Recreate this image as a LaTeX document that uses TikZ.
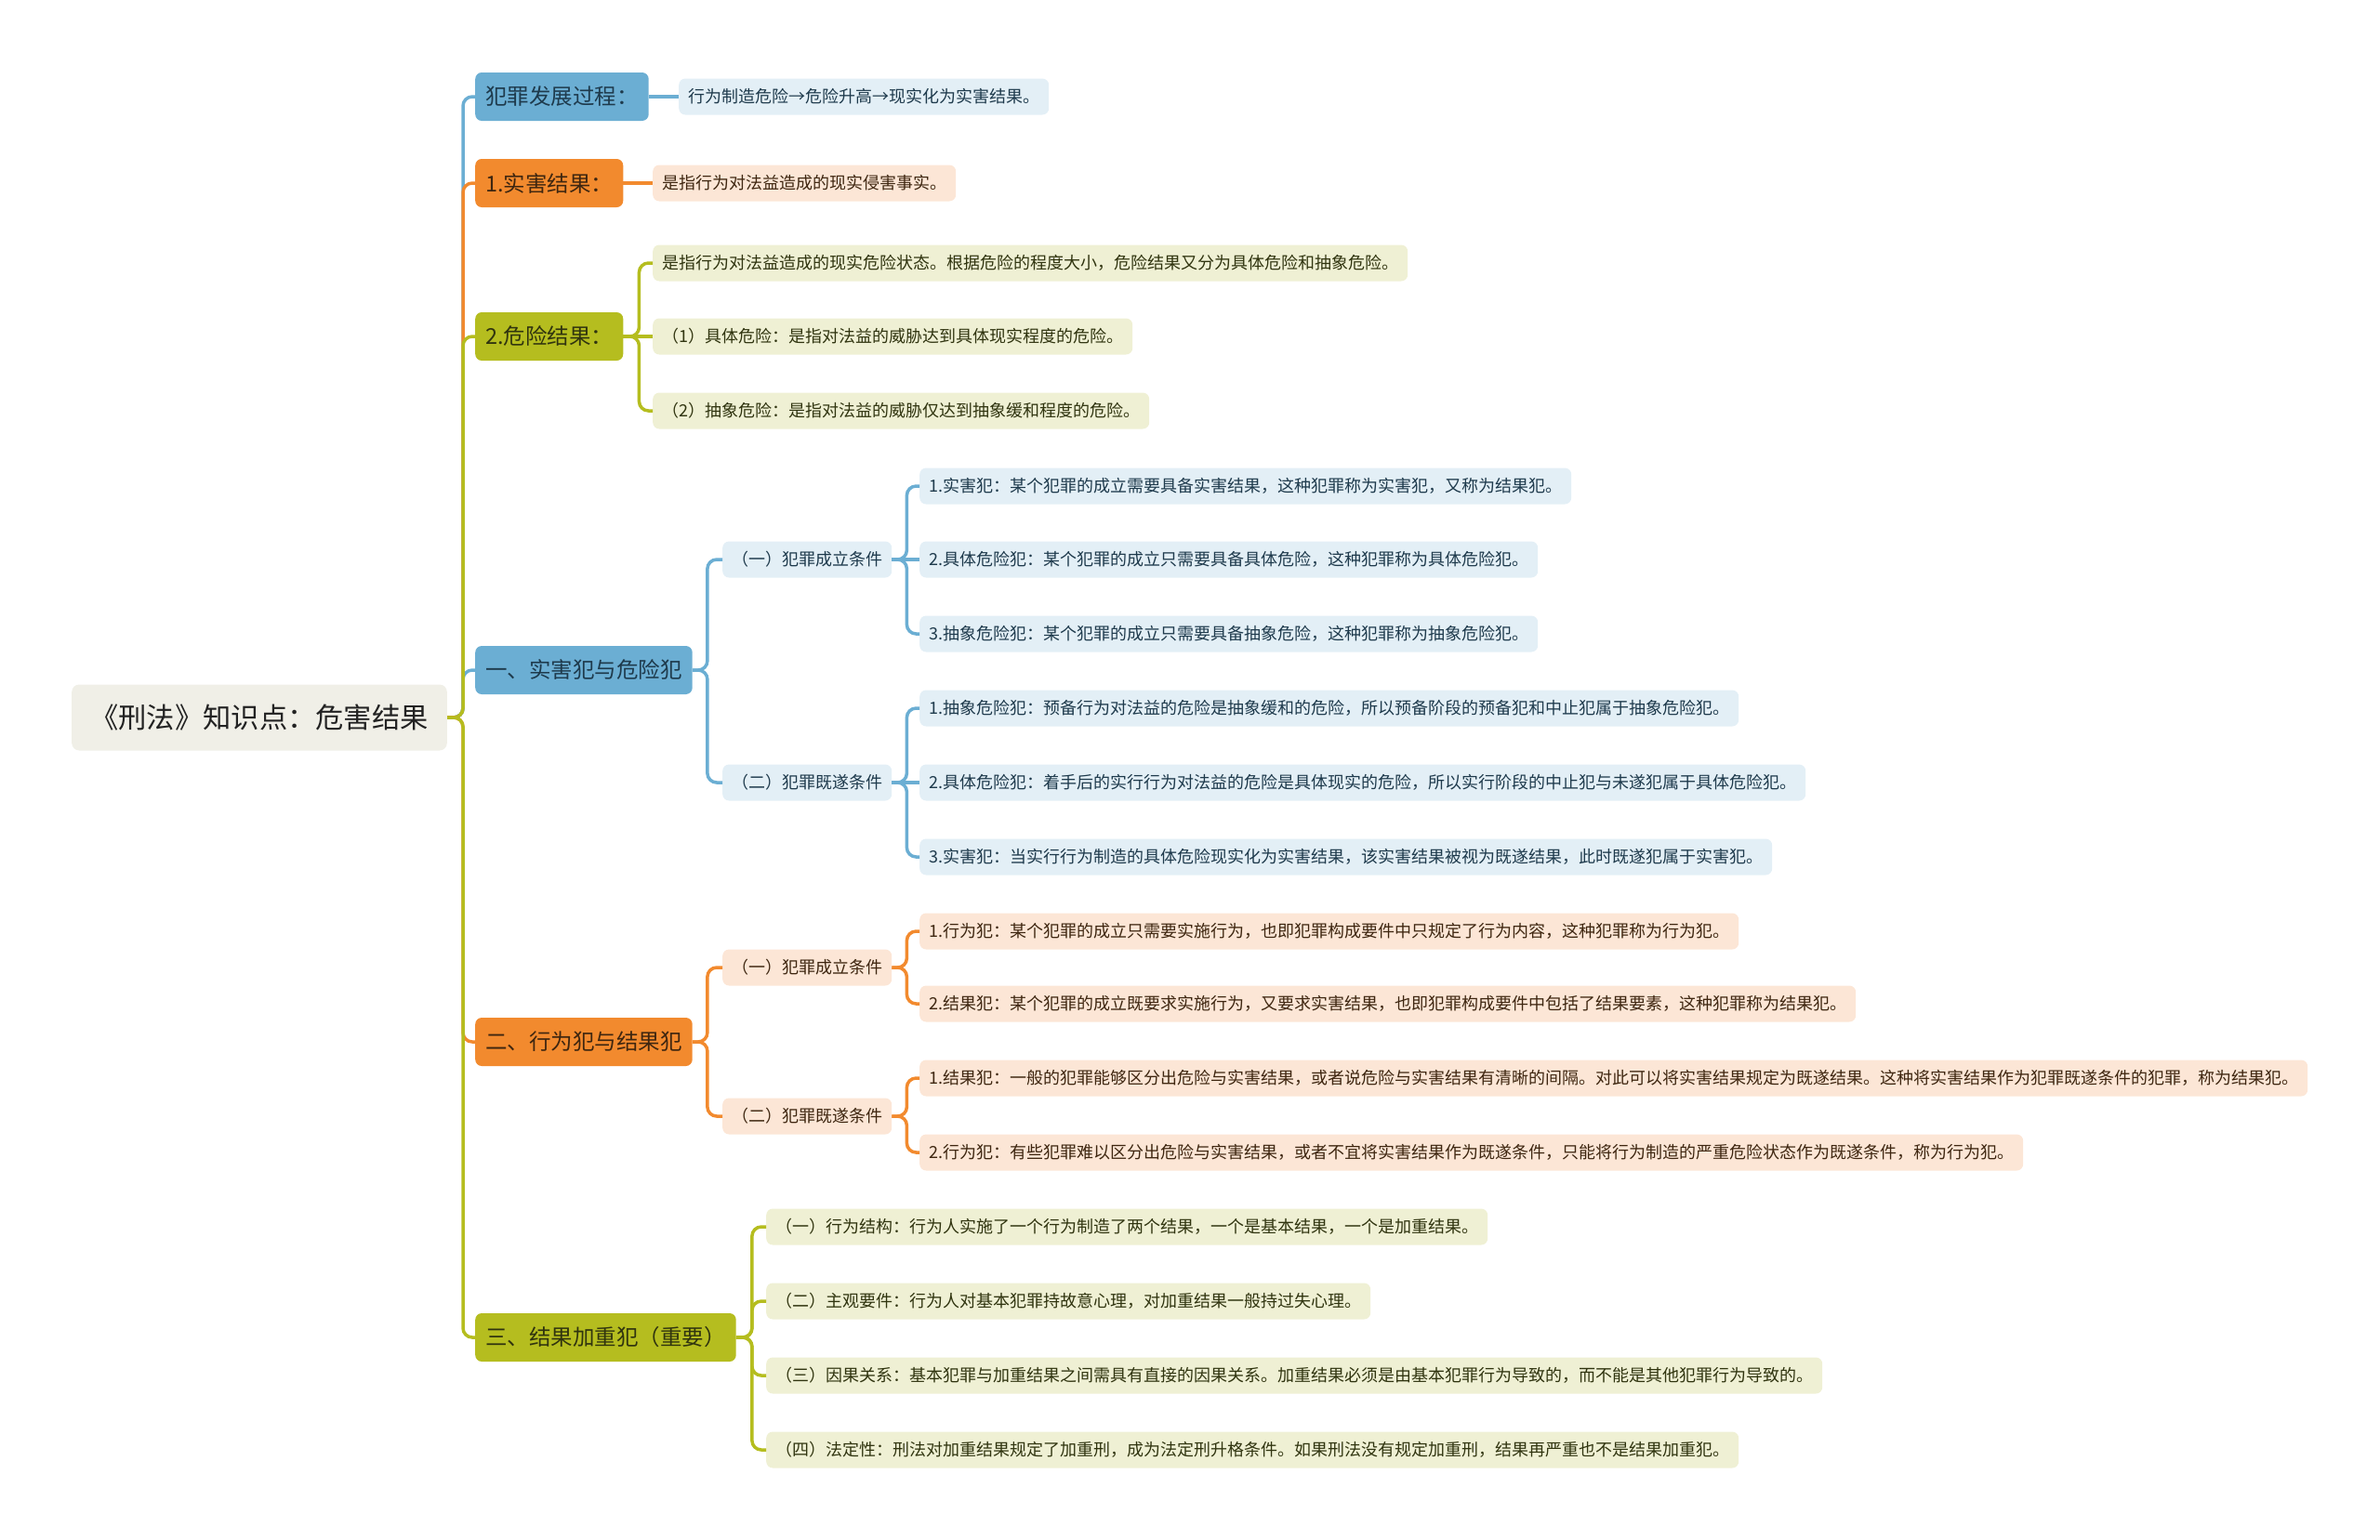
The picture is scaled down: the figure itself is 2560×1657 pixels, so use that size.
\documentclass[tikz,border=0pt]{standalone}
\usepackage{fontspec}
\newfontfamily\cjk{Noto Sans CJK SC}
\usepackage{tikz}
\usetikzlibrary{positioning, calc}

\definecolor{rootfill}{HTML}{F0EFE7}
\definecolor{roottext}{HTML}{222222}
\definecolor{blueM}{HTML}{6BAED3}
\definecolor{blueL}{HTML}{E3EFF6}
\definecolor{blueT}{HTML}{1E3A4C}
\definecolor{orangeM}{HTML}{F28A2E}
\definecolor{orangeL}{HTML}{FCE6D6}
\definecolor{orangeT}{HTML}{3E2610}
\definecolor{greenM}{HTML}{B5BD1F}
\definecolor{greenL}{HTML}{EFF0D4}
\definecolor{greenT}{HTML}{30340F}

\begin{document}
\begin{tikzpicture}[x=1pt, y=-1pt,
    root_node/.style={rectangle, rounded corners=8pt, fill=rootfill, text=roottext, anchor=west,
      font=\cjk\fontsize{30.3}{36}\selectfont, inner xsep=20pt, minimum height=71pt},
    main_node/.style={rectangle, rounded corners=7pt, anchor=west,
      font=\cjk\fontsize{23.5}{28}\selectfont, inner xsep=11pt, minimum height=52pt},
    leaf_node/.style={rectangle, rounded corners=7pt, anchor=west,
      font=\cjk\fontsize{18}{22}\selectfont, inner xsep=10pt, minimum height=39pt},
    blue_main/.style={main_node, fill=blueM, text=blueT},
    orange_main/.style={main_node, fill=orangeM, text=orangeT},
    green_main/.style={main_node, fill=greenM, text=greenT},
    blue_leaf/.style={leaf_node, fill=blueL, text=blueT},
    orange_leaf/.style={leaf_node, fill=orangeL, text=orangeT},
    green_leaf/.style={leaf_node, fill=greenL, text=greenT},
    link/.style={line width=3.5pt, rounded corners=10pt},
    ]
    \useasboundingbox (0,0) rectangle (2560,1657);

    % Nodes
    \node[root_node] (root) at (77,772) {《刑法》知识点：危害结果};

    \node[blue_main] (a) at (511,104) {犯罪发展过程：};
    \node[orange_main] (b) at (511,197) {1.实害结果：};
    \node[green_main] (c) at (511,362) {2.危险结果：};
    \node[blue_main] (d) at (511,721) {一、实害犯与危险犯};
    \node[orange_main] (e) at (511,1121) {二、行为犯与结果犯};
    \node[green_main] (f) at (511,1439) {三、结果加重犯（重要）};

    \node[blue_leaf] (a1) at (730,104) {行为制造危险→危险升高→现实化为实害结果。};
    \node[orange_leaf] (b1) at (702,197) {是指行为对法益造成的现实侵害事实。};

    \node[green_leaf] (c1) at (702,283) {是指行为对法益造成的现实危险状态。根据危险的程度大小，危险结果又分为具体危险和抽象危险。};
    \node[green_leaf] (c2) at (702,362) {（1）具体危险：是指对法益的威胁达到具体现实程度的危险。};
    \node[green_leaf] (c3) at (702,442) {（2）抽象危险：是指对法益的威胁仅达到抽象缓和程度的危险。};

    \node[blue_leaf] (d1) at (777,602) {（一）犯罪成立条件};
    \node[blue_leaf] (d2) at (777,842) {（二）犯罪既遂条件};
    \node[blue_leaf] (d1a) at (989,523) {1.实害犯：某个犯罪的成立需要具备实害结果，这种犯罪称为实害犯，又称为结果犯。};
    \node[blue_leaf] (d1b) at (989,602) {2.具体危险犯：某个犯罪的成立只需要具备具体危险，这种犯罪称为具体危险犯。};
    \node[blue_leaf] (d1c) at (989,682) {3.抽象危险犯：某个犯罪的成立只需要具备抽象危险，这种犯罪称为抽象危险犯。};
    \node[blue_leaf] (d2a) at (989,762) {1.抽象危险犯：预备行为对法益的危险是抽象缓和的危险，所以预备阶段的预备犯和中止犯属于抽象危险犯。};
    \node[blue_leaf] (d2b) at (989,842) {2.具体危险犯：着手后的实行行为对法益的危险是具体现实的危险，所以实行阶段的中止犯与未遂犯属于具体危险犯。};
    \node[blue_leaf] (d2c) at (989,922) {3.实害犯：当实行行为制造的具体危险现实化为实害结果，该实害结果被视为既遂结果，此时既遂犯属于实害犯。};

    \node[orange_leaf] (e1) at (777,1041) {（一）犯罪成立条件};
    \node[orange_leaf] (e2) at (777,1201) {（二）犯罪既遂条件};
    \node[orange_leaf] (e1a) at (989,1002) {1.行为犯：某个犯罪的成立只需要实施行为，也即犯罪构成要件中只规定了行为内容，这种犯罪称为行为犯。};
    \node[orange_leaf] (e1b) at (989,1080) {2.结果犯：某个犯罪的成立既要求实施行为，又要求实害结果，也即犯罪构成要件中包括了结果要素，这种犯罪称为结果犯。};
    \node[orange_leaf] (e2a) at (989,1160) {1.结果犯：一般的犯罪能够区分出危险与实害结果，或者说危险与实害结果有清晰的间隔。对此可以将实害结果规定为既遂结果。这种将实害结果作为犯罪既遂条件的犯罪，称为结果犯。};
    \node[orange_leaf] (e2b) at (989,1240) {2.行为犯：有些犯罪难以区分出危险与实害结果，或者不宜将实害结果作为既遂条件，只能将行为制造的严重危险状态作为既遂条件，称为行为犯。};

    \node[green_leaf] (f1) at (824,1320) {（一）行为结构：行为人实施了一个行为制造了两个结果，一个是基本结果，一个是加重结果。};
    \node[green_leaf] (f2) at (824,1400) {（二）主观要件：行为人对基本犯罪持故意心理，对加重结果一般持过失心理。};
    \node[green_leaf] (f3) at (824,1480) {（三）因果关系：基本犯罪与加重结果之间需具有直接的因果关系。加重结果必须是由基本犯罪行为导致的，而不能是其他犯罪行为导致的。};
    \node[green_leaf] (f4) at (824,1560) {（四）法定性：刑法对加重结果规定了加重刑，成为法定刑升格条件。如果刑法没有规定加重刑，结果再严重也不是结果加重犯。};

    % Links
    \draw[link, blueM] (root.east) -- ++(17,0) |- (a.west);
    \draw[link, orangeM] (root.east) -- ++(17,0) |- (b.west);
    \draw[link, blueM] (root.east) -- ++(17,0) |- (d.west);
    \draw[link, greenM] (root.east) -- ++(17,0) |- (c.west);
    \draw[link, orangeM] (root.east) -- ++(17,0) |- (e.west);
    \draw[link, greenM] (root.east) -- ++(17,0) |- (f.west);

    \draw[link, blueM] (a.east) -- (a1.west);
    \draw[link, orangeM] (b.east) -- (b1.west);

    \draw[link, greenM] (c.east) -- ++(17,0) |- (c1.west); \draw[link, greenM] (c.east) -- (c2.west);
    \draw[link, greenM] (c.east) -- ++(17,0) |- (c3.west);

    \draw[link, blueM] (d.east) -- ++(16,0) |- (d1.west); \draw[link, blueM] (d.east) -- ++(16,0) |- (d2.west);
    \draw[link, blueM] (d1.east) -- ++(16,0) |- (d1a.west); \draw[link, blueM] (d1.east) -- (d1b.west);
    \draw[link, blueM] (d1.east) -- ++(16,0) |- (d1c.west);
    \draw[link, blueM] (d2.east) -- ++(16,0) |- (d2a.west); \draw[link, blueM] (d2.east) -- (d2b.west);
    \draw[link, blueM] (d2.east) -- ++(16,0) |- (d2c.west);

    \draw[link, orangeM] (e.east) -- ++(16,0) |- (e1.west); \draw[link, orangeM] (e.east) -- ++(16,0) |- (e2.west);
    \draw[link, orangeM] (e1.east) -- ++(16,0) |- (e1a.west); \draw[link, orangeM] (e1.east) -- ++(16,0) |- (e1b.west);
    \draw[link, orangeM] (e2.east) -- ++(16,0) |- (e2a.west); \draw[link, orangeM] (e2.east) -- ++(16,0) |- (e2b.west);

    \draw[link, greenM] (f.east) -- ++(17,0) |- (f1.west); \draw[link, greenM] (f.east) -- ++(17,0) |- (f2.west);
    \draw[link, greenM] (f.east) -- ++(17,0) |- (f3.west); \draw[link, greenM] (f.east) -- ++(17,0) |- (f4.west);
\end{tikzpicture}
\end{document}
